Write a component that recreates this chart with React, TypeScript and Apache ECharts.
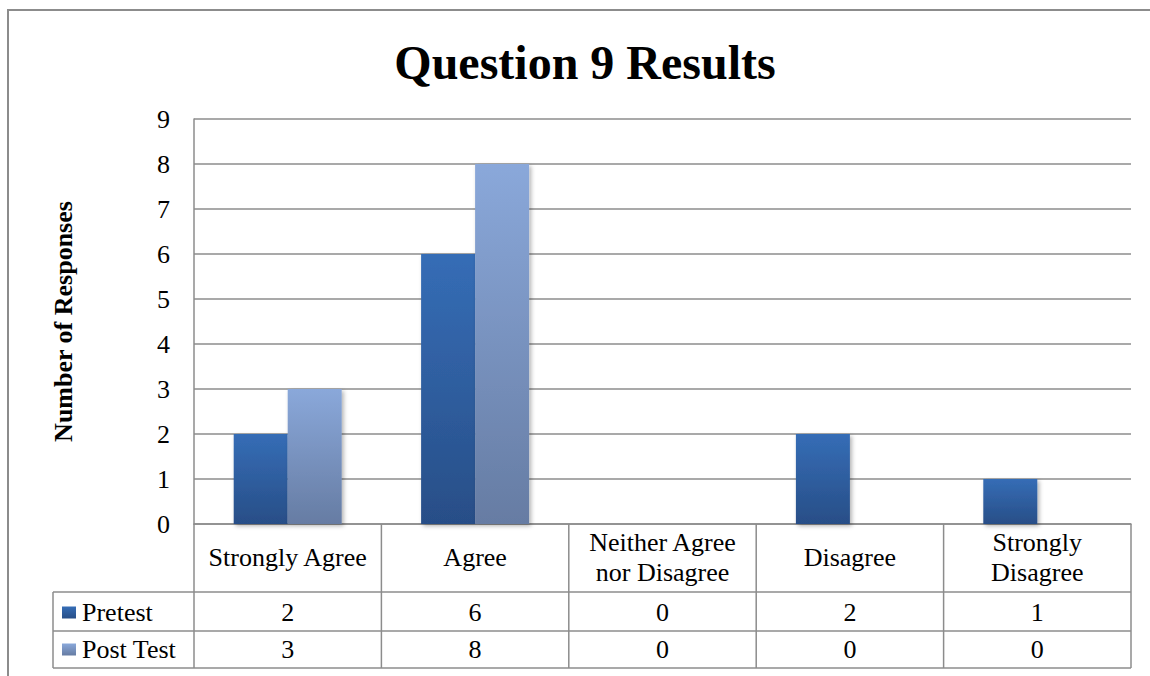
import React, { useEffect, useRef } from "react";
import * as echarts from "echarts";

const categories = ["Strongly Agree", "Agree", "Neither Agree\nnor Disagree", "Disagree", "Strongly\nDisagree"];
const seriesNames = ["Pretest", "Post Test"];
const pretest = [2, 6, 0, 2, 1];
const postTest = [3, 8, 0, 0, 0];
const yMin = 0;
const yMax = 9;
const yInterval = 1;
const titleText = "Question 9 Results";
const yAxisName = "Number of Responses";

const FONT = "'Liberation Serif', 'Times New Roman', Times, serif";
const W = 1150;
const H = 676;
const GL = 194;
const GR = 1131;
const GT = 119;
const GB = 524;
const ROW1 = 592;
const ROW2 = 631;
const ROW3 = 668;
const TL = 53;
const LINE = "#8c8c8c";

const preGrad = () =>
  new echarts.graphic.LinearGradient(0, 0, 0, 1, [
    { offset: 0, color: "#356db6" },
    { offset: 1, color: "#284e87" },
  ]);
const postGrad = () =>
  new echarts.graphic.LinearGradient(0, 0, 0, 1, [
    { offset: 0, color: "#8aa8da" },
    { offset: 1, color: "#667ca3" },
  ]);

export default function App() {
  const ref = useRef<HTMLDivElement>(null);
  useEffect(() => {
    if (!ref.current) return;
    const chart = echarts.init(ref.current, null, { renderer: "svg" });
    const n = categories.length;
    const cw = (GR - GL) / n;
    const graphics: any[] = [];
    // outer frame
    graphics.push({
      type: "rect",
      shape: { x: 8, y: 10, width: 1170, height: 720 },
      style: { fill: "none", stroke: LINE, lineWidth: 2 },
      z: 0,
    });
    const hline = (x1: number, x2: number, y: number) =>
      graphics.push({ type: "line", shape: { x1, y1: y, x2, y2: y }, style: { stroke: LINE, lineWidth: 1.5 }, z: 5 });
    const vline = (x: number, y1: number, y2: number) =>
      graphics.push({ type: "line", shape: { x1: x, y1, x2: x, y2 }, style: { stroke: LINE, lineWidth: 1.5 }, z: 5 });
    hline(TL, GR, ROW1);
    hline(TL, GR, ROW2);
    hline(TL, GR, ROW3);
    vline(TL, ROW1, ROW3);
    for (let i = 0; i <= n; i++) vline(GL + i * cw, GB, ROW3);
    const rows = [
      { name: seriesNames[0], data: pretest, grad: preGrad(), cy: (ROW1 + ROW2) / 2 + 1 },
      { name: seriesNames[1], data: postTest, grad: postGrad(), cy: (ROW2 + ROW3) / 2 },
    ];
    rows.forEach((r) => {
      graphics.push({
        type: "rect",
        shape: { x: 62, y: r.cy - 6, width: 14, height: 12 },
        style: { fill: r.grad },
        z: 6,
      });
      graphics.push({
        type: "text",
        x: 82,
        y: r.cy,
        style: { text: r.name, font: `26px ${FONT}`, fill: "#000", textAlign: "left", textVerticalAlign: "middle" },
        z: 6,
      });
      r.data.forEach((v, i) => {
        graphics.push({
          type: "text",
          x: GL + (i + 0.5) * cw,
          y: r.cy,
          style: { text: String(v), font: `26px ${FONT}`, fill: "#000", textAlign: "center", textVerticalAlign: "middle" },
          z: 6,
        });
      });
    });
    graphics.push({
      type: "text",
      x: 585,
      y: 62,
      style: { text: titleText, font: `bold 48px ${FONT}`, fill: "#000", textAlign: "center", textVerticalAlign: "middle" },
      z: 6,
    });

    const barStyle = (grad: any) => ({
      color: grad,
      shadowBlur: 4,
      shadowOffsetX: 2,
      shadowOffsetY: 2,
      shadowColor: "rgba(0,0,0,0.3)",
    });

    chart.setOption({
      animation: false,
      backgroundColor: "#fff",
      grid: { left: GL, right: W - GR, top: GT, bottom: H - GB, containLabel: false },
      xAxis: {
        type: "category",
        data: categories,
        axisLine: { show: true, lineStyle: { color: LINE, width: 1.5 } },
        axisTick: { show: false },
        axisLabel: {
          fontFamily: FONT,
          fontSize: 26,
          lineHeight: 30,
          color: "#000",
          margin: 33,
          verticalAlign: "middle",
          interval: 0,
        },
      },
      yAxis: {
        type: "value",
        min: yMin,
        max: yMax,
        interval: yInterval,
        name: yAxisName,
        nameLocation: "middle",
        nameRotate: 90,
        nameGap: 118,
        nameTextStyle: { fontFamily: FONT, fontSize: 26, fontWeight: "bold", color: "#000" },
        axisLine: { show: true, lineStyle: { color: LINE, width: 1.5 } },
        axisTick: { show: false },
        axisLabel: { fontFamily: FONT, fontSize: 26, color: "#000", margin: 24 },
        splitLine: { show: true, lineStyle: { color: LINE, width: 1.5 } },
      },
      series: [
        { name: seriesNames[0], type: "bar", data: pretest, barWidth: 54, barGap: "0%", itemStyle: barStyle(preGrad()) },
        { name: seriesNames[1], type: "bar", data: postTest, barWidth: 54, barGap: "0%", itemStyle: barStyle(postGrad()) },
      ],
      graphic: graphics,
    });
    return () => chart.dispose();
  }, []);
  return <div ref={ref} style={{ position: "fixed", left: 0, top: 0, width: W, height: H }} />;
}
